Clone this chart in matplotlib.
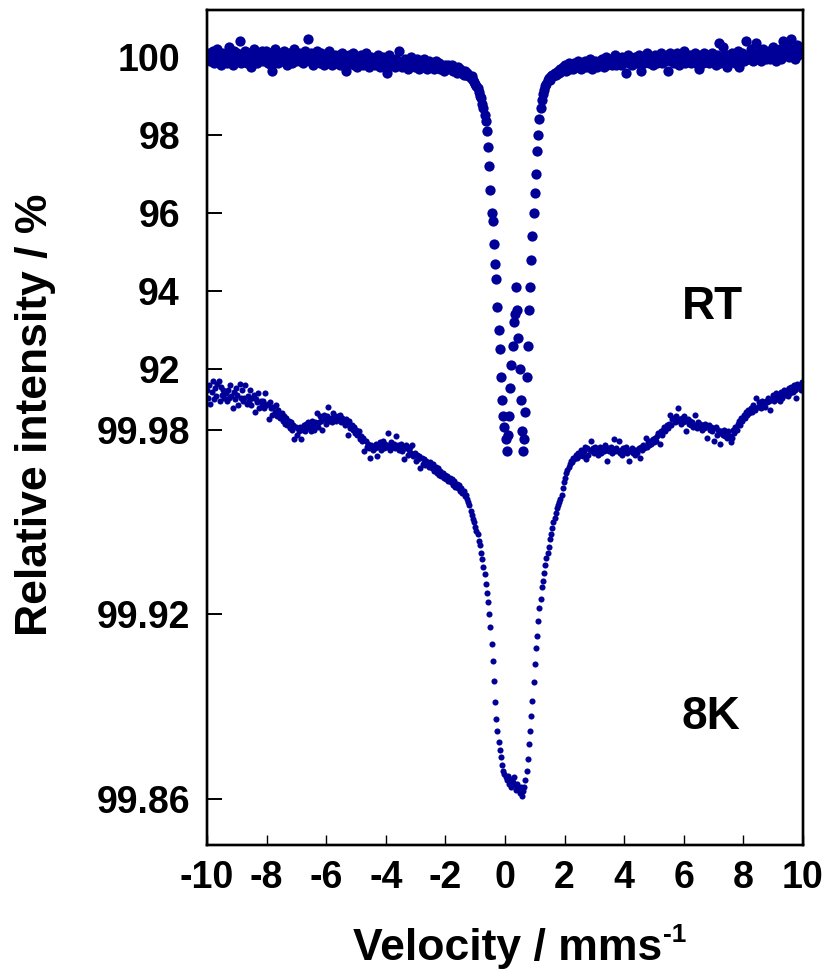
import numpy as np
import matplotlib
matplotlib.use("Agg")
import matplotlib.pyplot as plt
from matplotlib.ticker import FixedLocator

plt.rcParams['font.family'] = ['Liberation Sans', 'DejaVu Sans']
plt.rcParams['font.weight'] = 'bold'

# ---------------- data ----------------
v_min, v_max, n_channels = -10.0, 10.0, 512

rt_percent = [
    [100.05, 99.95, 100.10, 99.90, 100.00, 100.15, 99.85, 100.05, 99.95, 100.20, 99.90, 100.05, 99.80, 100.10, 99.95, 100.00],
    [100.10, 99.85, 100.00, 100.25, 99.95, 100.05, 99.80, 100.15, 100.00, 99.90, 100.10, 99.95, 100.40, 99.85, 100.05, 99.90],
    [100.00, 100.15, 99.85, 100.05, 99.95, 100.10, 99.75, 100.00, 100.20, 99.90, 100.05, 99.85, 100.10, 99.95, 100.00, 100.15],
    [99.90, 100.05, 99.95, 100.15, 99.85, 100.00, 100.10, 99.80, 99.65, 99.95, 100.20, 99.90, 100.00, 99.85, 100.10, 99.95],
    [100.05, 99.90, 100.15, 99.95, 100.00, 99.80, 100.10, 99.95, 100.05, 99.85, 100.00, 100.20, 99.90, 100.05, 99.95, 100.10],
    [99.90, 100.05, 99.85, 100.00, 100.15, 99.95, 100.05, 100.45, 99.90, 100.10, 99.95, 99.80, 100.05, 99.95, 100.15, 99.90],
    [100.00, 99.85, 100.10, 99.95, 99.80, 100.05, 99.90, 100.00, 99.85, 100.15, 99.95, 99.80, 100.00, 99.90, 100.05, 99.85],
    [99.95, 100.05, 99.80, 99.95, 100.10, 99.85, 99.95, 99.65, 100.00, 99.90, 100.05, 99.85, 99.95, 100.10, 99.80, 99.95],
    [99.90, 99.75, 100.00, 99.85, 100.05, 99.90, 99.80, 99.95, 100.10, 99.85, 99.95, 99.75, 99.90, 100.00, 99.85, 99.95],
    [99.80, 99.95, 99.85, 100.05, 99.75, 99.90, 99.85, 100.00, 99.80, 99.95, 99.60, 99.90, 100.05, 99.85, 99.80, 99.95],
    [99.85, 99.75, 99.95, 99.80, 99.90, 100.15, 99.85, 99.75, 99.90, 99.80, 99.95, 99.85, 99.70, 99.90, 99.85, 100.00],
    [99.80, 99.90, 99.75, 99.85, 99.95, 99.80, 99.70, 99.90, 99.85, 99.75, 99.95, 99.80, 99.85, 99.70, 99.90, 99.80],
    [99.85, 99.75, 99.80, 99.70, 99.90, 99.80, 99.75, 99.85, 99.70, 99.80, 99.75, 99.65, 99.80, 99.75, 99.70, 99.80],
    [99.75, 99.70, 99.80, 99.65, 99.75, 99.70, 99.60, 99.75, 99.65, 99.70, 99.60, 99.65, 99.55, 99.65, 99.55, 99.60],
    [99.55, 99.50, 99.45, 99.50, 99.40, 99.35, 99.30, 99.25, 99.20, 99.10, 99.00, 98.95, 98.80, 98.70, 98.50, 98.35],
    [98.10, 97.70, 97.20, 96.60, 96.00, 95.80, 95.20, 94.70, 94.30, 93.60, 93.00, 92.50, 91.80, 91.20, 90.80, 90.50],
    [90.20, 89.90, 90.30, 90.80, 91.50, 92.10, 92.60, 93.20, 93.40, 94.10, 93.50, 92.80, 92.00, 91.20, 90.40, 89.90],
    [90.20, 90.90, 91.80, 92.60, 93.50, 94.10, 94.80, 95.40, 96.00, 96.50, 97.00, 97.60, 98.00, 98.40, 98.70, 98.90],
    [99.05, 99.15, 99.25, 99.30, 99.40, 99.45, 99.40, 99.50, 99.55, 99.50, 99.60, 99.55, 99.60, 99.65, 99.60, 99.70],
    [99.65, 99.75, 99.70, 99.80, 99.65, 99.75, 99.85, 99.70, 99.80, 99.75, 99.70, 99.85, 99.80, 99.75, 99.90, 99.75],
    [99.80, 99.70, 99.85, 99.75, 99.90, 99.80, 99.75, 99.85, 99.95, 99.80, 99.70, 99.85, 99.80, 99.90, 99.75, 99.85],
    [99.90, 99.80, 99.85, 99.95, 99.75, 99.85, 100.00, 99.80, 99.90, 99.85, 99.95, 99.80, 99.90, 99.85, 100.05, 99.80],
    [99.85, 99.95, 99.90, 99.80, 100.00, 99.85, 99.95, 99.60, 99.90, 100.05, 99.85, 99.90, 99.80, 99.95, 99.85, 100.00],
    [99.90, 99.85, 100.05, 99.95, 99.65, 99.90, 100.00, 99.85, 99.95, 100.10, 99.90, 99.85, 100.00, 99.90, 99.80, 99.95],
    [100.05, 99.90, 99.85, 100.00, 99.95, 100.10, 99.85, 99.95, 100.00, 99.90, 100.05, 99.65, 99.95, 100.10, 99.90, 99.95],
    [99.85, 100.00, 99.95, 100.10, 99.90, 99.80, 100.05, 99.95, 99.90, 100.15, 99.85, 100.00, 99.95, 99.90, 100.05, 99.85],
    [100.00, 99.90, 100.10, 99.85, 99.95, 100.05, 99.70, 99.95, 100.00, 99.85, 100.10, 99.95, 99.90, 100.05, 99.85, 100.00],
    [99.95, 100.10, 99.90, 100.00, 99.80, 100.05, 99.95, 100.35, 99.85, 100.00, 100.25, 99.90, 100.05, 99.95, 99.75, 100.05],
    [100.00, 99.90, 100.10, 99.95, 100.05, 99.85, 100.00, 100.15, 99.75, 100.05, 99.95, 100.10, 99.90, 100.00, 100.40, 99.95],
    [100.05, 99.95, 100.20, 100.00, 99.90, 100.10, 100.00, 100.35, 99.95, 100.05, 100.15, 99.90, 100.05, 100.20, 100.00, 99.95],
    [100.10, 100.00, 100.15, 99.95, 100.05, 100.25, 100.00, 100.10, 99.90, 100.15, 100.05, 100.20, 99.95, 100.10, 100.40, 100.05],
    [100.15, 100.05, 100.25, 100.00, 100.10, 100.45, 100.05, 100.20, 99.95, 100.15, 100.30, 100.05, 100.20, 100.10, 100.25, 100.15],
]

k8_percent = [
    [99.9930, 99.9905, 99.9945, 99.9885, 99.9925, 99.9960, 99.9900, 99.9935, 99.9910, 99.9950, 99.9960, 99.9895, 99.9940, 99.9915, 99.9930, 99.9905],
    [99.9920, 99.9895, 99.9930, 99.9905, 99.9945, 99.9910, 99.9870, 99.9925, 99.9900, 99.9935, 99.9915, 99.9880, 99.9950, 99.9905, 99.9930, 99.9895],
    [99.9905, 99.9945, 99.9885, 99.9910, 99.9895, 99.9930, 99.9880, 99.9905, 99.9915, 99.9860, 99.9900, 99.9890, 99.9920, 99.9870, 99.9895, 99.9880],
    [99.9895, 99.9870, 99.9920, 99.9880, 99.9885, 99.9835, 99.9890, 99.9870, 99.9850, 99.9875, 99.9860, 99.9880, 99.9845, 99.9865, 99.9850, 99.9840],
    [99.9855, 99.9830, 99.9845, 99.9820, 99.9840, 99.9815, 99.9830, 99.9805, 99.9825, 99.9800, 99.9815, 99.9770, 99.9810, 99.9785, 99.9805, 99.9795],
    [99.9810, 99.9770, 99.9800, 99.9815, 99.9795, 99.9820, 99.9805, 99.9825, 99.9810, 99.9795, 99.9830, 99.9815, 99.9800, 99.9825, 99.9855, 99.9810],
    [99.9825, 99.9845, 99.9830, 99.9800, 99.9850, 99.9835, 99.9820, 99.9845, 99.9875, 99.9830, 99.9840, 99.9825, 99.9855, 99.9835, 99.9845, 99.9830],
    [99.9845, 99.9835, 99.9850, 99.9825, 99.9840, 99.9830, 99.9815, 99.9835, 99.9820, 99.9785, 99.9830, 99.9805, 99.9815, 99.9800, 99.9810, 99.9790],
    [99.9800, 99.9785, 99.9795, 99.9770, 99.9780, 99.9765, 99.9775, 99.9730, 99.9765, 99.9745, 99.9755, 99.9740, 99.9710, 99.9750, 99.9735, 99.9745],
    [99.9740, 99.9755, 99.9715, 99.9745, 99.9760, 99.9735, 99.9750, 99.9765, 99.9740, 99.9755, 99.9745, 99.9790, 99.9750, 99.9735, 99.9760, 99.9745],
    [99.9755, 99.9740, 99.9780, 99.9745, 99.9750, 99.9735, 99.9755, 99.9730, 99.9745, 99.9705, 99.9740, 99.9750, 99.9720, 99.9735, 99.9745, 99.9725],
    [99.9750, 99.9715, 99.9725, 99.9700, 99.9720, 99.9705, 99.9715, 99.9675, 99.9710, 99.9690, 99.9705, 99.9685, 99.9700, 99.9690, 99.9680, 99.9695],
    [99.9685, 99.9675, 99.9690, 99.9665, 99.9680, 99.9660, 99.9675, 99.9655, 99.9665, 99.9650, 99.9660, 99.9645, 99.9655, 99.9640, 99.9650, 99.9635],
    [99.9645, 99.9630, 99.9640, 99.9620, 99.9635, 99.9615, 99.9625, 99.9610, 99.9620, 99.9600, 99.9610, 99.9595, 99.9600, 99.9585, 99.9590, 99.9575],
    [99.9565, 99.9555, 99.9535, 99.9525, 99.9510, 99.9500, 99.9485, 99.9470, 99.9460, 99.9440, 99.9425, 99.9400, 99.9380, 99.9355, 99.9330, 99.9300],
    [99.9270, 99.9240, 99.9200, 99.9160, 99.9105, 99.9050, 99.8985, 99.8915, 99.8860, 99.8820, 99.8785, 99.8760, 99.8735, 99.8710, 99.8690, 99.8680],
    [99.8670, 99.8660, 99.8675, 99.8650, 99.8665, 99.8640, 99.8655, 99.8670, 99.8645, 99.8630, 99.8650, 99.8635, 99.8620, 99.8640, 99.8610, 99.8625],
    [99.8640, 99.8660, 99.8690, 99.8730, 99.8780, 99.8820, 99.8870, 99.8920, 99.8980, 99.9040, 99.9090, 99.9130, 99.9180, 99.9220, 99.9250, 99.9290],
    [99.9310, 99.9335, 99.9360, 99.9385, 99.9400, 99.9420, 99.9445, 99.9460, 99.9480, 99.9500, 99.9515, 99.9530, 99.9545, 99.9555, 99.9565, 99.9575],
    [99.9590, 99.9610, 99.9630, 99.9645, 99.9660, 99.9670, 99.9680, 99.9690, 99.9700, 99.9695, 99.9710, 99.9705, 99.9720, 99.9710, 99.9725, 99.9715],
    [99.9720, 99.9735, 99.9715, 99.9730, 99.9745, 99.9705, 99.9740, 99.9720, 99.9735, 99.9765, 99.9730, 99.9740, 99.9725, 99.9745, 99.9735, 99.9720],
    [99.9735, 99.9745, 99.9725, 99.9740, 99.9730, 99.9750, 99.9735, 99.9700, 99.9740, 99.9730, 99.9745, 99.9725, 99.9735, 99.9770, 99.9730, 99.9740],
    [99.9730, 99.9765, 99.9725, 99.9735, 99.9720, 99.9740, 99.9730, 99.9745, 99.9725, 99.9735, 99.9700, 99.9730, 99.9740, 99.9725, 99.9735, 99.9720],
    [99.9735, 99.9725, 99.9740, 99.9710, 99.9745, 99.9735, 99.9750, 99.9740, 99.9775, 99.9745, 99.9760, 99.9750, 99.9765, 99.9755, 99.9770, 99.9760],
    [99.9775, 99.9765, 99.9780, 99.9790, 99.9755, 99.9795, 99.9785, 99.9800, 99.9810, 99.9795, 99.9815, 99.9805, 99.9820, 99.9850, 99.9815, 99.9835],
    [99.9840, 99.9825, 99.9845, 99.9830, 99.9870, 99.9835, 99.9820, 99.9840, 99.9825, 99.9845, 99.9830, 99.9795, 99.9835, 99.9820, 99.9830, 99.9815],
    [99.9825, 99.9810, 99.9850, 99.9815, 99.9805, 99.9825, 99.9810, 99.9820, 99.9800, 99.9815, 99.9805, 99.9820, 99.9810, 99.9775, 99.9815, 99.9800],
    [99.9810, 99.9795, 99.9805, 99.9765, 99.9810, 99.9785, 99.9800, 99.9790, 99.9755, 99.9795, 99.9785, 99.9800, 99.9780, 99.9790, 99.9775, 99.9795],
    [99.9780, 99.9760, 99.9775, 99.9800, 99.9790, 99.9810, 99.9800, 99.9820, 99.9830, 99.9815, 99.9840, 99.9830, 99.9850, 99.9840, 99.9860, 99.9850],
    [99.9865, 99.9855, 99.9870, 99.9860, 99.9880, 99.9870, 99.9865, 99.9905, 99.9875, 99.9890, 99.9880, 99.9870, 99.9895, 99.9885, 99.9875, 99.9895],
    [99.9890, 99.9905, 99.9895, 99.9865, 99.9900, 99.9915, 99.9895, 99.9905, 99.9920, 99.9900, 99.9910, 99.9895, 99.9925, 99.9905, 99.9915, 99.9930],
    [99.9915, 99.9930, 99.9910, 99.9935, 99.9920, 99.9940, 99.9925, 99.9945, 99.9930, 99.9905, 99.9950, 99.9935, 99.9945, 99.9930, 99.9955, 99.9940],
]

x_ticks = [-10, -8, -6, -4, -2, 0, 2, 4, 6, 8, 10]
rt_ticks = [100, 98, 96, 94, 92]
k8_ticks = [99.98, 99.92, 99.86]
k8_tick_labels = ['99.98', '99.92', '99.86']
series_labels = ['RT', '8K']

# ---------------- plot ----------------
velocity = np.linspace(v_min, v_max, n_channels)
rt = np.array(rt_percent).ravel()
k8 = np.array(k8_percent).ravel()

W, H = 828, 971
fig = plt.figure(figsize=(W / 100, H / 100), dpi=100)
ax = fig.add_axes([207 / W, 1 - 845 / H, (803 - 207) / W, (845 - 10) / H])
ax2 = ax.twinx()
ax2.yaxis.tick_left()

blue = '#000099'
ax.plot(velocity, rt, 'o', ms=7.4, color=blue, mec='none')
ax2.plot(velocity, k8, 'o', ms=4.4, color=blue, mec='none')

ax.set_xlim(-10, 10)
ax.set_ylim(79.795, 101.205)
ax2.set_ylim(99.8450, 100.1166)

ax.xaxis.set_major_locator(FixedLocator(x_ticks))
ax.set_xticklabels([str(t) for t in x_ticks])
ax.yaxis.set_major_locator(FixedLocator(rt_ticks))
ax.set_yticklabels([str(t) for t in rt_ticks])
ax2.yaxis.set_major_locator(FixedLocator(k8_ticks))
ax2.set_yticklabels(k8_tick_labels)

for a in (ax, ax2):
    for s in a.spines.values():
        s.set_linewidth(1.7)
ax.tick_params(axis='y', direction='in', length=11, width=1.4, pad=19.5, labelsize=27)
ax.tick_params(axis='x', direction='in', length=7, width=1.0, pad=11, labelsize=27)
ax2.tick_params(axis='y', direction='in', length=11, width=1.4, pad=12, labelsize=27,
                left=True, right=False, labelleft=True, labelright=False)

for lbl in ax.get_xticklabels() + ax.get_yticklabels() + ax2.get_yticklabels():
    lbl.set_fontweight('bold')

fig.text(712 / W, 1 - 307 / H, series_labels[0], fontsize=33, fontweight='bold',
         ha='center', va='center')
fig.text(711 / W, 1 - 717 / H, series_labels[1], fontsize=33, fontweight='bold',
         ha='center', va='center')

fig.text(35.5 / W, 1 - 415 / H, 'Relative intensity / %', fontsize=32, fontweight='bold',
         rotation=90, ha='center', va='center')

xl = fig.text(353 / W, 1 - 960 / H, 'Velocity / mms', fontsize=32,
              fontweight='bold', ha='left', va='baseline')
renderer = fig.canvas.get_renderer()
bb = xl.get_window_extent(renderer=renderer)
fig.text((bb.x1 + 1) / W, 1 - 942 / H, '-1', fontsize=19, fontweight='bold',
         ha='left', va='baseline')

fig.savefig('out.png', dpi=100)
